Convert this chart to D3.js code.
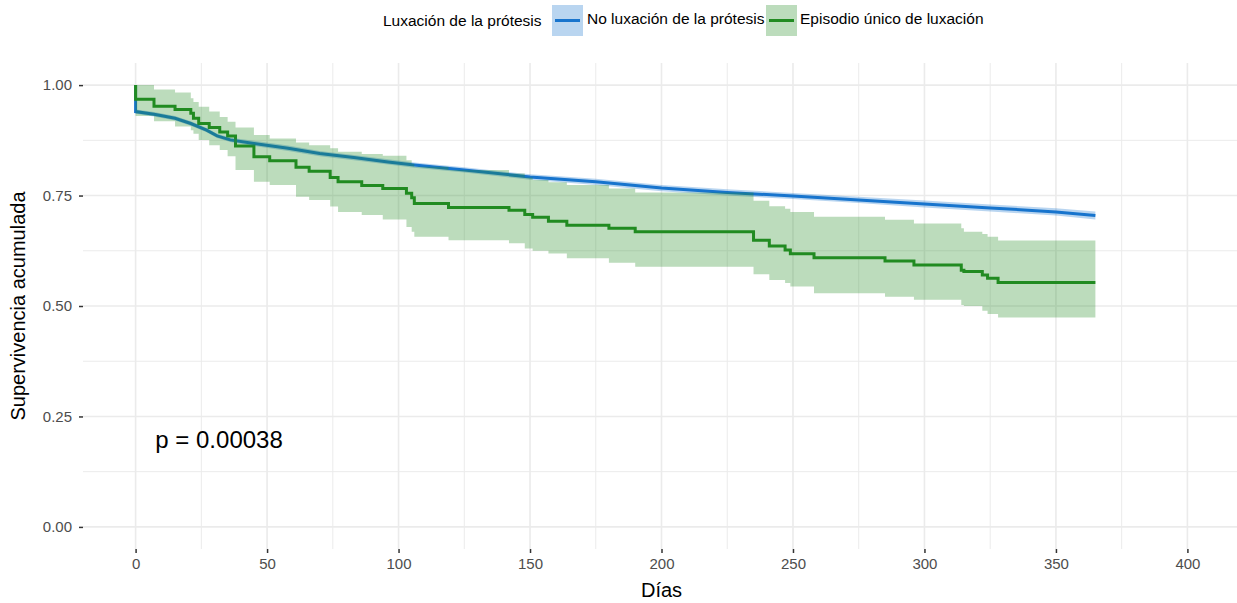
<!DOCTYPE html>
<html>
<head>
<meta charset="utf-8">
<script src="https://cdn.jsdelivr.net/npm/d3@7"></script>
<style>
  html, body { margin: 0; padding: 0; background: #fff; }
  svg { display: block; font-family: "Liberation Sans", Arial, Helvetica, sans-serif; }
</style>
</head>
<body>
<svg id="chart" width="1237" height="603"></svg>
<script>
// ---------- data ----------
const seriesNames = ["No luxación de la prótesis", "Episodio único de luxación"];
const legendTitle = "Luxación de la prótesis";
const xTicks = [0, 50, 100, 150, 200, 250, 300, 350, 400];
const yTicks = [0, 0.25, 0.5, 0.75, 1];
const pValueLabel = "p = 0.00038";

// No luxación (blue)
const blueTime  = [0, 0, 7, 15, 21, 27, 31, 36, 45, 58, 70, 83, 96, 106, 125, 150, 175, 200, 225, 250, 275, 300, 325, 350, 365];
const blueSurv  = [1, 0.940, 0.934, 0.925, 0.913, 0.898, 0.885, 0.876, 0.868, 0.857, 0.845, 0.836, 0.826, 0.819, 0.808, 0.792, 0.781, 0.767, 0.757, 0.749, 0.740, 0.731, 0.722, 0.713, 0.705];
const blueUpper = [1, 0.945, 0.939, 0.930, 0.918, 0.903, 0.890, 0.881, 0.874, 0.863, 0.851, 0.842, 0.832, 0.825, 0.814, 0.798, 0.788, 0.774, 0.764, 0.756, 0.747, 0.739, 0.730, 0.721, 0.714];
const blueLower = [1, 0.935, 0.929, 0.920, 0.908, 0.893, 0.880, 0.871, 0.862, 0.851, 0.839, 0.830, 0.820, 0.813, 0.802, 0.786, 0.774, 0.760, 0.750, 0.742, 0.733, 0.723, 0.714, 0.705, 0.696];

// Episodio único (green)
const greenTime  = [0, 0, 7, 15, 21, 22, 24, 28, 32, 35, 38, 45, 51, 61, 66, 74, 77, 86, 94, 103, 105, 106, 119, 142, 148, 151, 157, 164, 180, 190, 235, 241, 247, 249, 258, 285, 296, 314, 315, 322, 324, 328, 365];
const greenSurv  = [1, 0.968, 0.952, 0.945, 0.936, 0.925, 0.913, 0.904, 0.894, 0.885, 0.862, 0.838, 0.829, 0.814, 0.805, 0.791, 0.781, 0.773, 0.766, 0.755, 0.745, 0.732, 0.723, 0.717, 0.707, 0.701, 0.692, 0.683, 0.676, 0.668, 0.649, 0.636, 0.627, 0.618, 0.609, 0.602, 0.593, 0.581, 0.578, 0.570, 0.563, 0.553, 0.553];
const greenUpper = [1, 1.0, 0.990, 0.983, 0.970, 0.962, 0.951, 0.940, 0.928, 0.917, 0.904, 0.887, 0.879, 0.870, 0.864, 0.857, 0.849, 0.844, 0.840, 0.830, 0.822, 0.815, 0.808, 0.800, 0.791, 0.785, 0.780, 0.774, 0.766, 0.757, 0.738, 0.726, 0.720, 0.713, 0.702, 0.695, 0.687, 0.676, 0.668, 0.663, 0.657, 0.648, 0.648];
const greenLower = [1, 0.930, 0.918, 0.906, 0.898, 0.890, 0.876, 0.864, 0.853, 0.839, 0.808, 0.781, 0.774, 0.747, 0.740, 0.725, 0.713, 0.706, 0.696, 0.679, 0.668, 0.657, 0.649, 0.642, 0.630, 0.625, 0.619, 0.608, 0.598, 0.589, 0.572, 0.559, 0.552, 0.544, 0.529, 0.521, 0.514, 0.502, 0.500, 0.489, 0.482, 0.474, 0.474];

const colors = ["#1874CD", "#228B22"];

// ---------- layout ----------
const svg = d3.select("#chart");
const panel = { left: 83, right: 1240, top: 63, bottom: 549 };
const x = d3.scaleLinear().domain([-20, 420]).range([panel.left, panel.right]);
const y = d3.scaleLinear().domain([-0.05, 1.05]).range([panel.bottom, panel.top]);

const grid = svg.append("g");
const gridColor = "#ebebeb";
// minor grid
const xMinor = [25, 75, 125, 175, 225, 275, 325, 375];
const yMinor = [0.125, 0.375, 0.625, 0.875];
grid.selectAll(".xm").data(xMinor).join("line")
  .attr("x1", d => x(d)).attr("x2", d => x(d)).attr("y1", panel.top).attr("y2", panel.bottom)
  .attr("stroke", gridColor).attr("stroke-width", 1);
grid.selectAll(".ym").data(yMinor).join("line")
  .attr("y1", d => y(d)).attr("y2", d => y(d)).attr("x1", panel.left).attr("x2", panel.right)
  .attr("stroke", gridColor).attr("stroke-width", 1);
// major grid
grid.selectAll(".xM").data(xTicks).join("line")
  .attr("x1", d => x(d)).attr("x2", d => x(d)).attr("y1", panel.top).attr("y2", panel.bottom)
  .attr("stroke", gridColor).attr("stroke-width", 1.6);
grid.selectAll(".yM").data(yTicks).join("line")
  .attr("y1", d => y(d)).attr("y2", d => y(d)).attr("x1", panel.left).attr("x2", panel.right)
  .attr("stroke", gridColor).attr("stroke-width", 1.6);

// ---------- series ----------
function pts(t, s) { return t.map((d, i) => [d, s[i]]); }
const series = [
  { line: pts(blueTime, blueSurv), up: blueUpper, lo: blueLower, t: blueTime, curve: d3.curveLinear, color: colors[0] },
  { line: pts(greenTime, greenSurv), up: greenUpper, lo: greenLower, t: greenTime, curve: d3.curveStepAfter, color: colors[1] }
];

const lineGen = c => d3.line().x(d => x(d[0])).y(d => y(d[1])).curve(c);
const areaGen = c => d3.area().x(d => x(d.t)).y0(d => y(d.lo)).y1(d => y(d.up)).curve(c);

// lines first, ribbons on top (like survminer)
series.forEach(s => {
  svg.append("path").datum(s.line).attr("d", lineGen(s.curve))
    .attr("fill", "none").attr("stroke", s.color).attr("stroke-width", 3);
});
series.forEach(s => {
  const band = s.t.map((t, i) => ({ t: t, up: s.up[i], lo: s.lo[i] }));
  svg.append("path").datum(band).attr("d", areaGen(s.curve))
    .attr("fill", s.color).attr("fill-opacity", 0.3).attr("stroke", "none");
});

// ---------- axes ----------
const xAxis = svg.append("g").attr("transform", `translate(0,${panel.bottom})`)
  .call(d3.axisBottom(x).tickValues(xTicks).tickSize(4).tickPadding(5).tickFormat(d3.format("d")));
const yAxis = svg.append("g").attr("transform", `translate(${panel.left},0)`)
  .call(d3.axisLeft(y).tickValues(yTicks).tickSize(4).tickPadding(7).tickFormat(d3.format(".2f")));
[xAxis, yAxis].forEach(a => {
  a.select(".domain").remove();
  a.selectAll(".tick line").attr("stroke", "#333").attr("stroke-width", 1.5);
  a.selectAll(".tick text").attr("fill", "#4d4d4d").style("font-size", "15px")
    .style("font-family", '"Liberation Sans", Arial, sans-serif');
});

// axis titles
svg.append("text").attr("x", x(200)).attr("y", 597).attr("text-anchor", "middle")
  .style("font-size", "20px").attr("fill", "#000").text("Días");
svg.append("text").attr("transform", `translate(25,${y(0.5)}) rotate(-90)`).attr("text-anchor", "middle")
  .style("font-size", "20px").attr("fill", "#000").text("Supervivencia acumulada");

// p-value
svg.append("text").attr("x", x(7.5)).attr("y", 448)
  .style("font-size", "24px").attr("fill", "#000").text(pValueLabel);

// ---------- legend ----------
const lg = svg.append("g");
const legFont = "15.5px";
lg.append("text").attr("x", 383).attr("y", 26).style("font-size", legFont).attr("fill", "#000").text(legendTitle);
const keyX = [552, 766];
const labX = [587, 800];
seriesNames.forEach((n, i) => {
  lg.append("rect").attr("x", keyX[i]).attr("y", 5).attr("width", 31).attr("height", 31)
    .attr("fill", colors[i]).attr("fill-opacity", 0.3);
  lg.append("line").attr("x1", keyX[i] + 3).attr("x2", keyX[i] + 28).attr("y1", 20.5).attr("y2", 20.5)
    .attr("stroke", colors[i]).attr("stroke-width", 3);
  lg.append("text").attr("x", labX[i]).attr("y", 24).style("font-size", legFont).attr("fill", "#000").text(n);
});
</script>
</body>
</html>
